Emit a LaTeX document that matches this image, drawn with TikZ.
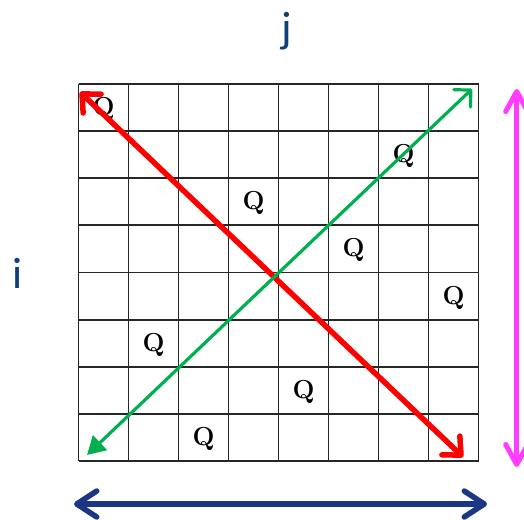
\documentclass[tikz,border=0pt]{standalone}
\usepackage{fontspec}
\newfontfamily\labelfont{Carlito}
\usetikzlibrary{arrows.meta}
\definecolor{navytext}{HTML}{0F3F78}
\definecolor{navyarrow}{HTML}{1B3682}
\definecolor{qgreen}{HTML}{00B050}
\definecolor{qmagenta}{HTML}{FF3CFF}
\tikzset{
  gridline/.style={line width=1.8pt, draw=black!85},
  queen/.style={font=\fontsize{26}{26}\selectfont\bfseries, inner sep=0pt},
  axislabel/.style={font=\labelfont\fontsize{44}{44}\selectfont, text=navytext, inner sep=0pt},
}
\begin{document}
\begin{tikzpicture}[x=1pt,y=-1pt]
\useasboundingbox (0,0) rectangle (524,519);
% grid
\foreach \k in {0,...,8} {
  \draw[gridline] ({78.5+50*\k},84) -- ({78.5+50*\k},461);
  \draw[gridline] (78.5,{84+47.125*\k}) -- (478.5,{84+47.125*\k});
}
% queens (row, column)
\foreach \r/\c [count=\n] in {1/1,2/7,3/4,4/6,5/8,6/2,7/5,8/3} {
  \node[queen] (q\n) at ({78.5+50*(\c-0.5)},{84+47.125*(\r-0.5)+1.5}) {Q};
}
% labels
\node[axislabel, anchor=base] (lj) at (287,43) {j};
\node[axislabel, anchor=base] (li) at (18,288) {i};
% arrow end points
\coordinate (rA) at (80,92);
\coordinate (rB) at (463,457);
\coordinate (gA) at (87,455);
\coordinate (gB) at (472,89);
\coordinate (mA) at (516.7,89);
\coordinate (mB) at (516.7,467);
\coordinate (nA) at (74,504);
\coordinate (nB) at (487,504);
% arrows
\draw[red, line width=5.5pt, {Straight Barb[length=14pt,width=26pt,round]}-{Straight Barb[length=14pt,width=26pt,round]}] (rA) -- (rB);
\draw[qgreen, line width=3.2pt, {Triangle[length=18pt,width=20pt]}-{Straight Barb[length=12pt,width=24pt,round]}] (gA) -- (gB);
\draw[qmagenta, line width=5pt, {Straight Barb[length=20pt,width=22pt,round]}-{Straight Barb[length=20pt,width=22pt,round]}] (mB) -- (mA);
\draw[navyarrow, line width=5.5pt, {Straight Barb[length=20pt,width=26pt,round]}-{Straight Barb[length=20pt,width=26pt,round]}] (nA) -- (nB);
\end{tikzpicture}
\end{document}
